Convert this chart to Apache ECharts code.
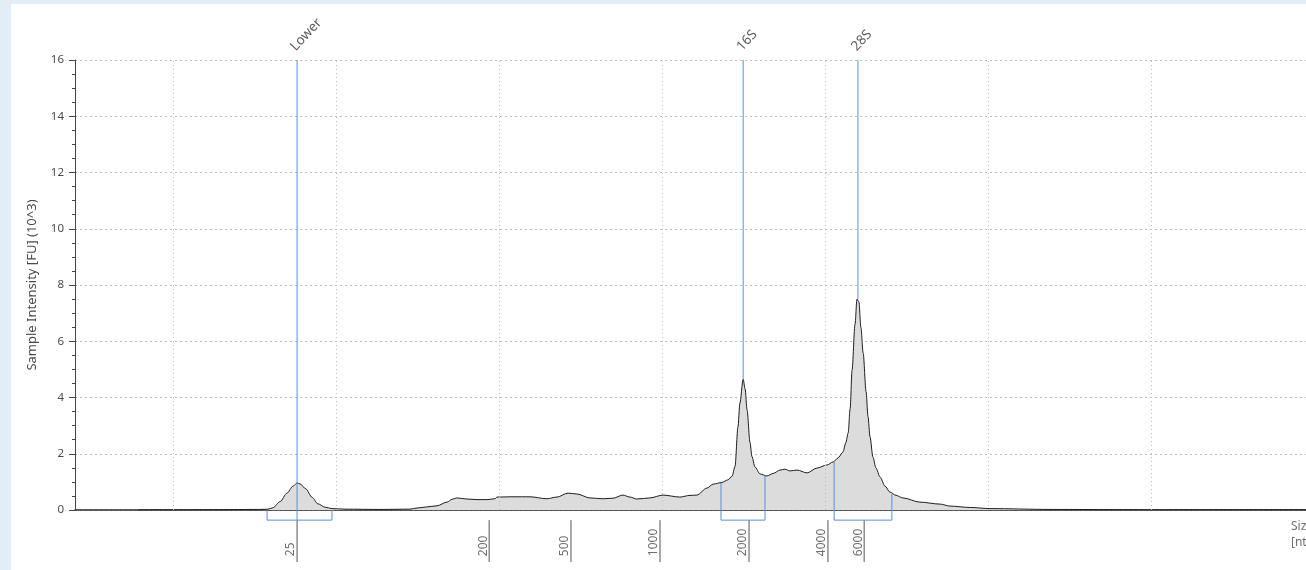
<!DOCTYPE html>
<html>
<head>
<meta charset="utf-8">
<script src="https://cdn.jsdelivr.net/npm/echarts@6/dist/echarts.min.js"></script>
<style>
  html, body { margin: 0; padding: 0; width: 1306px; height: 570px; overflow: hidden; background: #e2edf6; }
  #chart { position: absolute; left: 11px; top: 4px; width: 1295px; height: 566px; background: #ffffff; }
</style>
</head>
<body>
<div id="chart"></div>
<script>
// ---- Data (time in seconds, intensity in FU x10^3) ----
var traceTime = [18.93, 20.83, 22.67, 22.92, 23.07, 23.29, 23.50, 23.69, 23.81, 23.90, 24.08, 24.27, 24.45, 24.67, 24.88, 25.28, 26.35, 27.27,
  27.49, 27.79, 28.10, 28.41, 28.56, 28.71, 29.02, 29.33, 29.63, 29.88, 29.94, 30.43, 30.95, 31.47, 31.78, 32.12, 32.39, 32.79, 33.19, 33.50,
  33.80, 34.02, 34.23, 34.63, 35.03, 35.55, 35.86, 36.07, 36.38, 36.57, 36.84, 37.02, 37.15, 37.24, 37.33, 37.39, 37.49, 37.55, 37.61, 37.70,
  37.76, 37.85, 38.01, 38.22, 38.41, 38.62, 38.77, 38.93, 39.14, 39.45, 39.75, 40.06, 40.25, 40.40, 40.55, 40.64, 40.71, 40.77, 40.83, 40.92,
  40.98, 41.04, 41.10, 41.17, 41.26, 41.32, 41.38, 41.47, 41.56, 41.69, 41.84, 41.99, 42.18, 42.39, 42.91, 43.53, 43.83, 44.45, 45.06, 46.90,
  49.97, 54.75];
var traceIntensity = [0.01, 0.01, 0.02, 0.03, 0.08, 0.30, 0.60, 0.85, 0.96, 0.93, 0.75, 0.45, 0.22, 0.10, 0.05, 0.03, 0.02, 0.03,
  0.07, 0.11, 0.15, 0.28, 0.38, 0.43, 0.39, 0.37, 0.37, 0.40, 0.46, 0.47, 0.47, 0.40, 0.46, 0.60, 0.57, 0.43, 0.40, 0.42,
  0.53, 0.46, 0.39, 0.43, 0.53, 0.46, 0.52, 0.53, 0.78, 0.92, 0.98, 1.07, 1.20, 1.55, 2.95, 3.80, 4.65, 4.30, 3.56, 2.40,
  1.90, 1.53, 1.28, 1.21, 1.30, 1.42, 1.45, 1.39, 1.42, 1.32, 1.49, 1.60, 1.71, 1.85, 2.06, 2.40, 2.74, 3.60, 4.98, 6.60,
  7.50, 7.40, 6.50, 5.58, 4.20, 3.31, 2.60, 1.88, 1.50, 1.17, 0.85, 0.64, 0.52, 0.43, 0.28, 0.21, 0.14, 0.09, 0.05, 0.02,
  0.01, 0.01];

// peak markers
var peakNames = ['Lower', '16S', '28S'];
var peakTimes = [23.81, 37.49, 41.01];
var peakLineBottom = [-0.36, 4.65, 7.50];

// integration windows: start, end, left-side height, right-side height
var windowStart = [22.89, 36.81, 40.28];
var windowEnd = [24.88, 38.16, 42.05];
var windowLeftTop = [0.0, 0.97, 1.72];
var windowRightTop = [0.0, 1.22, 0.58];
var windowBottom = -0.36;

// size ladder (nt) and its time positions
var sizeLabels = ['25', '200', '500', '1000', '2000', '4000', '6000'];
var sizeTimes = [23.81, 29.70, 32.21, 34.94, 37.67, 40.09, 41.20];
var sizeTickTop = -0.36;
var sizeTickBottom = -1.85;
var sizeLabelBase = -1.64;

// time gridlines
var timeGrid = [20, 25, 30, 35, 40, 45, 50];

// axes
var yMin = 0, yMax = 16, yStep = 2;
var xMin = 17, xMax = 54.75;
var xNamePos = [54.29, -0.3];

// ---- Build ----
var FONT = 'Noto Sans';
var TXT = '#4a4a4a';
var BLUE = '#5b8fd4';

var traceData = traceTime.map(function (t, i) { return [t, traceIntensity[i]]; });

var series = [];

series.push({
  type: 'line',
  name: 'trace',
  data: traceData,
  showSymbol: false,
  smooth: 0.3,
  smoothMonotone: 'x',
  lineStyle: { color: '#1e1e1e', width: 1 },
  areaStyle: { color: '#dcdcdc', opacity: 1, origin: 0 },
  z: 3,
  silent: true,
  markLine: {
    silent: true,
    symbol: ['none', 'none'],
    animation: false,
    label: { show: false },
    lineStyle: { color: '#bdbdbd', type: [1, 3], width: 1 },
    data: timeGrid.map(function (t) { return [{ coord: [t, yMin] }, { coord: [t, yMax] }]; })
  }
});

// size ticks (segments below the axis)
sizeTimes.forEach(function (t, i) {
  series.push({
    type: 'line',
    name: 'sizeTick' + i,
    data: [[t, sizeTickTop], [t, sizeTickBottom]],
    showSymbol: false,
    clip: false,
    silent: true,
    lineStyle: { color: '#555555', width: 1 },
    z: 4
  });
});

// size labels
series.push({
  type: 'scatter',
  name: 'sizeLabels',
  data: sizeTimes.map(function (t, i) { return { value: [t, sizeLabelBase], name: sizeLabels[i] }; }),
  symbol: 'circle',
  symbolSize: 1,
  itemStyle: { color: 'rgba(0,0,0,0)' },
  clip: false,
  silent: true,
  label: {
    show: true,
    position: 'inside',
    rotate: 90,
    align: 'left',
    verticalAlign: 'bottom',
    formatter: function (d) { return d.name; },
    fontFamily: FONT,
    fontSize: 12,
    color: TXT
  },
  z: 6
});

// integration windows
for (var k = 0; k < windowStart.length; k++) {
  series.push({
    type: 'line',
    name: 'win' + k,
    data: [[windowStart[k], windowLeftTop[k]], [windowStart[k], windowBottom], [windowEnd[k], windowBottom], [windowEnd[k], windowRightTop[k]]],
    showSymbol: false,
    clip: false,
    silent: true,
    lineStyle: { color: BLUE, width: 1 },
    z: 4
  });
}

// peak marker lines
for (var p = 0; p < peakTimes.length; p++) {
  series.push({
    type: 'line',
    name: 'peak' + p,
    data: [[peakTimes[p], yMax], [peakTimes[p], peakLineBottom[p]]],
    showSymbol: false,
    clip: false,
    silent: true,
    lineStyle: { color: BLUE, width: 1 },
    z: 5
  });
}

// peak names
series.push({
  type: 'scatter',
  name: 'peakNames',
  data: peakTimes.map(function (t, i) { return { value: [t, yMax], name: peakNames[i] }; }),
  symbol: 'circle',
  symbolSize: 1,
  itemStyle: { color: 'rgba(0,0,0,0)' },
  clip: false,
  silent: true,
  label: {
    show: true,
    position: 'top',
    distance: 15,
    rotate: 47,
    align: 'left',
    verticalAlign: 'middle',
    offset: [-6, 0],
    formatter: function (d) { return d.name; },
    fontFamily: FONT,
    fontSize: 13.5,
    color: '#333'
  },
  z: 6
});

// x axis name
series.push({
  type: 'scatter',
  name: 'xname',
  data: [xNamePos],
  symbol: 'circle',
  symbolSize: 1,
  itemStyle: { color: 'rgba(0,0,0,0)' },
  clip: false,
  silent: true,
  label: {
    show: true,
    position: 'inside',
    align: 'left',
    verticalAlign: 'top',
    formatter: 'Size\n[nt]',
    lineHeight: 16,
    fontFamily: FONT,
    fontSize: 12,
    color: TXT
  }
});

var chart = echarts.init(document.getElementById('chart'), null, { renderer: 'canvas' });
chart.setOption({
  animation: false,
  backgroundColor: '#ffffff',
  grid: { left: 64, right: 0, top: 56, bottom: 60, containLabel: false },
  xAxis: {
    type: 'value',
    min: xMin,
    max: xMax,
    axisLine: { show: true, onZero: false, lineStyle: { color: '#2a2a2a', width: 1.5 } },
    axisTick: { show: false },
    axisLabel: { show: false },
    splitLine: { show: false }
  },
  yAxis: {
    type: 'value',
    min: yMin,
    max: yMax,
    interval: yStep,
    name: 'Sample Intensity [FU] (10^3)',
    nameLocation: 'middle',
    nameGap: 36,
    nameTextStyle: { fontFamily: FONT, fontSize: 13, color: TXT },
    axisLine: { show: true, lineStyle: { color: '#444', width: 1 } },
    axisTick: { show: true, length: 6, lineStyle: { color: '#444' } },
    minorTick: { show: true, splitNumber: 4, length: 3, lineStyle: { color: '#444' } },
    axisLabel: { fontFamily: FONT, fontSize: 11.5, color: TXT, margin: 11 },
    splitLine: { show: true, lineStyle: { color: '#bdbdbd', type: [2, 3], width: 1 } }
  },
  series: series
});
</script>
</body>
</html>
